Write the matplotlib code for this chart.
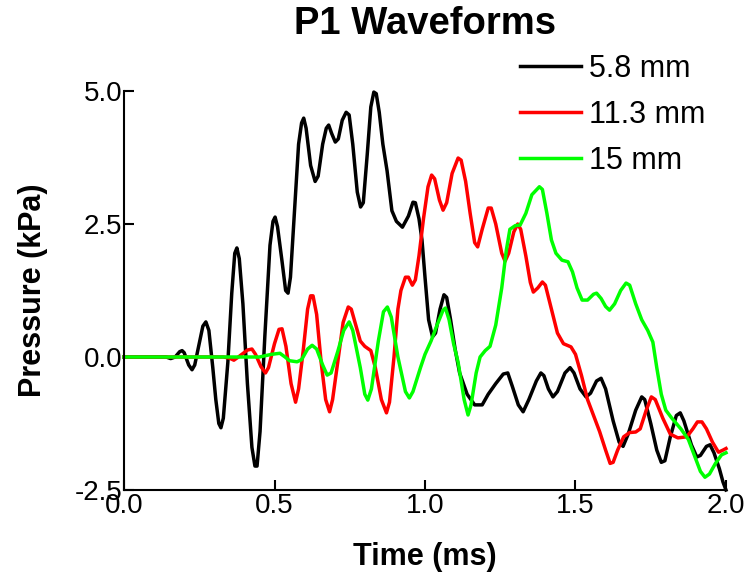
import matplotlib
matplotlib.use("Agg")
import matplotlib.pyplot as plt

plt.rcParams['font.family'] = ['Liberation Sans', 'DejaVu Sans']

labels = ["5.8 mm", "11.3 mm", "15 mm"]
colors = ["#000000", "#ff0000", "#00ff00"]

# (time ms, pressure kPa)
pts_58 = [(0.00, 0), (0.14, 0), (0.155, -0.03), (0.17, 0.0), (0.185, 0.1), (0.193, 0.12),
          (0.20, 0.08), (0.215, -0.15), (0.226, -0.24), (0.235, -0.15), (0.25, 0.25),
          (0.262, 0.58), (0.272, 0.66), (0.282, 0.5), (0.295, -0.2), (0.305, -0.8),
          (0.315, -1.25), (0.322, -1.33), (0.33, -1.15), (0.345, -0.1), (0.358, 1.2),
          (0.368, 1.95), (0.375, 2.05), (0.383, 1.85), (0.395, 1.0), (0.41, -0.5),
          (0.425, -1.7), (0.435, -2.05), (0.442, -2.05), (0.452, -1.4), (0.468, 0.4),
          (0.485, 2.1), (0.495, 2.55), (0.502, 2.63), (0.51, 2.45), (0.525, 1.8),
          (0.537, 1.25), (0.545, 1.2), (0.553, 1.5), (0.565, 2.6), (0.58, 4.0),
          (0.59, 4.4), (0.597, 4.49), (0.605, 4.3), (0.62, 3.6), (0.635, 3.3),
          (0.645, 3.4), (0.66, 4.0), (0.672, 4.3), (0.68, 4.36), (0.69, 4.2),
          (0.702, 4.04), (0.712, 4.1), (0.725, 4.45), (0.738, 4.6), (0.748, 4.55),
          (0.76, 4.0), (0.775, 3.1), (0.786, 2.82), (0.795, 2.9), (0.808, 3.8),
          (0.82, 4.7), (0.83, 4.98), (0.838, 4.95), (0.848, 4.6), (0.86, 4.0),
          (0.874, 3.5), (0.89, 2.75), (0.905, 2.55), (0.925, 2.44), (0.945, 2.65),
          (0.96, 2.91), (0.968, 2.9), (0.98, 2.6), (0.99, 2.2), (1.0, 1.5),
          (1.012, 0.7), (1.025, 0.38), (1.035, 0.45), (1.05, 0.9), (1.063, 1.17),
          (1.072, 1.12), (1.085, 0.7), (1.10, 0.15), (1.115, -0.3), (1.14, -0.7),
          (1.165, -0.9), (1.19, -0.9), (1.21, -0.7), (1.235, -0.5), (1.26, -0.32),
          (1.275, -0.3), (1.29, -0.55), (1.31, -0.9), (1.326, -1.03), (1.345, -0.8),
          (1.37, -0.45), (1.385, -0.3), (1.395, -0.35), (1.41, -0.6), (1.425, -0.75),
          (1.44, -0.65), (1.465, -0.3), (1.482, -0.2), (1.495, -0.3), (1.515, -0.6),
          (1.535, -0.75), (1.55, -0.68), (1.57, -0.45), (1.585, -0.4), (1.6, -0.6),
          (1.625, -1.2), (1.645, -1.6), (1.658, -1.68), (1.675, -1.45), (1.70, -1.0),
          (1.72, -0.75), (1.73, -0.8), (1.75, -1.25), (1.77, -1.75), (1.785, -1.98),
          (1.797, -1.95), (1.815, -1.5), (1.835, -1.1), (1.848, -1.05), (1.86, -1.2),
          (1.885, -1.65), (1.903, -1.88), (1.915, -1.85), (1.935, -1.68), (1.947, -1.65),
          (1.96, -1.8), (1.978, -2.1), (1.99, -2.35), (2.0, -2.5)]

pts_113 = [(0, 0), (0.33, 0), (0.35, -0.02), (0.365, -0.06), (0.38, 0.0), (0.41, 0.13),
           (0.425, 0.15), (0.437, 0.05), (0.455, -0.18), (0.47, -0.3), (0.48, -0.2),
           (0.50, 0.25), (0.515, 0.52), (0.525, 0.53), (0.538, 0.2), (0.555, -0.5),
           (0.57, -0.85), (0.58, -0.6), (0.595, 0.1), (0.61, 0.9), (0.62, 1.15),
           (0.628, 1.15), (0.64, 0.8), (0.655, -0.1), (0.67, -0.8), (0.683, -1.03),
           (0.693, -0.8), (0.71, -0.1), (0.728, 0.65), (0.745, 0.94), (0.755, 0.9),
           (0.77, 0.6), (0.785, 0.3), (0.80, 0.2), (0.82, 0.12), (0.835, -0.2),
           (0.855, -0.8), (0.872, -1.05), (0.882, -0.85), (0.897, 0.0), (0.91, 0.9),
           (0.92, 1.25), (0.935, 1.5), (0.945, 1.5), (0.958, 1.35), (0.968, 1.45),
           (0.98, 1.9), (0.995, 2.6), (1.01, 3.2), (1.022, 3.42), (1.032, 3.35),
           (1.048, 2.95), (1.06, 2.76), (1.072, 2.9), (1.09, 3.45), (1.11, 3.74),
           (1.12, 3.7), (1.135, 3.3), (1.15, 2.7), (1.165, 2.15), (1.175, 2.07),
           (1.19, 2.4), (1.21, 2.8), (1.22, 2.8), (1.235, 2.5), (1.255, 1.95),
           (1.266, 1.8), (1.278, 1.95), (1.295, 2.35), (1.308, 2.5), (1.318, 2.4),
           (1.335, 1.9), (1.35, 1.4), (1.36, 1.22), (1.375, 1.3), (1.39, 1.41),
           (1.40, 1.35), (1.42, 0.9), (1.44, 0.45), (1.46, 0.25), (1.485, 0.19),
           (1.5, 0.05), (1.52, -0.35), (1.54, -0.8), (1.56, -1.1), (1.58, -1.4),
           (1.60, -1.75), (1.615, -2.0), (1.625, -1.98), (1.64, -1.75), (1.66, -1.5),
           (1.68, -1.42), (1.70, -1.41), (1.715, -1.35), (1.735, -1.0), (1.752, -0.75),
           (1.765, -0.8), (1.79, -1.15), (1.815, -1.45), (1.84, -1.52), (1.87, -1.5),
           (1.89, -1.35), (1.905, -1.22), (1.92, -1.22), (1.935, -1.35), (1.955, -1.6),
           (1.975, -1.79), (1.99, -1.75), (2.0, -1.72)]

pts_15 = [(0, 0), (0.40, 0), (0.45, 0.0), (0.49, 0.05), (0.518, 0.07), (0.535, 0.0),
          (0.55, -0.07), (0.575, -0.09), (0.59, -0.05), (0.61, 0.15), (0.625, 0.22),
          (0.64, 0.15), (0.66, -0.15), (0.675, -0.34), (0.688, -0.3), (0.71, 0.1),
          (0.73, 0.5), (0.748, 0.66), (0.76, 0.5), (0.785, -0.2), (0.80, -0.7),
          (0.81, -0.81), (0.822, -0.6), (0.845, 0.3), (0.862, 0.85), (0.875, 0.94),
          (0.888, 0.75), (0.91, 0.0), (0.935, -0.65), (0.948, -0.77), (0.96, -0.65),
          (0.985, -0.2), (1.0, 0.05), (1.02, 0.3), (1.04, 0.6), (1.06, 0.88),
          (1.068, 0.92), (1.08, 0.7), (1.095, 0.25), (1.11, -0.1), (1.13, -0.8),
          (1.143, -1.09), (1.153, -0.9), (1.17, -0.3), (1.183, 0.0), (1.2, 0.12),
          (1.216, 0.2), (1.235, 0.6), (1.255, 1.3), (1.27, 2.0), (1.282, 2.4),
          (1.3, 2.47), (1.316, 2.48), (1.335, 2.7), (1.355, 3.05), (1.38, 3.2),
          (1.39, 3.15), (1.405, 2.7), (1.42, 2.2), (1.435, 1.95), (1.455, 1.82),
          (1.475, 1.79), (1.49, 1.6), (1.505, 1.3), (1.522, 1.07), (1.54, 1.07),
          (1.56, 1.18), (1.57, 1.2), (1.585, 1.1), (1.6, 0.95), (1.613, 0.88),
          (1.63, 1.0), (1.65, 1.25), (1.668, 1.39), (1.68, 1.35), (1.70, 1.0),
          (1.72, 0.7), (1.74, 0.5), (1.757, 0.28), (1.77, -0.2), (1.785, -0.7),
          (1.80, -1.0), (1.82, -1.15), (1.85, -1.35), (1.875, -1.55), (1.895, -1.85),
          (1.915, -2.15), (1.93, -2.26), (1.945, -2.2), (1.965, -2.0), (1.985, -1.84),
          (2.0, -1.8)]

x_ticks = [0.0, 0.5, 1.0, 1.5, 2.0]
y_ticks = [-2.5, 0.0, 2.5, 5.0]

fig = plt.figure(figsize=(7.44, 5.77), dpi=100)
ax = fig.add_axes([124/744, 87/577, 602/744, 399/577])

for pts, c, lab in zip([pts_58, pts_113, pts_15], colors, labels):
    t, p = zip(*pts)
    ax.plot(t, p, color=c, lw=2.5, label=lab, solid_joinstyle='round', clip_on=False)

ax.set_xlim(0, 2.0)
ax.set_ylim(-2.5, 5.0)
ax.set_xticks(x_ticks)
ax.set_xticklabels([f"{v:.1f}" for v in x_ticks])
ax.set_yticks(y_ticks)
ax.set_yticklabels([f"{v:.1f}" for v in y_ticks])
for s in ['top', 'right']:
    ax.spines[s].set_visible(False)
for s in ['left', 'bottom']:
    ax.spines[s].set_linewidth(1.5)
ax.tick_params(direction='in', length=7, width=1.5, labelsize=20, pad=2)
ax.tick_params(axis='y', pad=1)

ax.set_xlabel("Time (ms)", fontsize=22, fontweight='bold', labelpad=17)
ax.set_ylabel("Pressure (kPa)", fontsize=22, fontweight='bold', labelpad=19)
fig.text(425/744, 1 - 24/577, "P1 Waveforms", fontsize=27.5, fontweight='bold',
         ha='center', va='center')

leg = fig.legend(loc='upper left', bbox_to_anchor=(520/744, 1 - 54/577), frameon=False,
                 fontsize=22, handlelength=2.0, handletextpad=0.25, labelspacing=0.52,
                 borderaxespad=0, borderpad=0)
for line in leg.get_lines():
    line.set_linewidth(2.5)

fig.savefig("out.png", dpi=100)
